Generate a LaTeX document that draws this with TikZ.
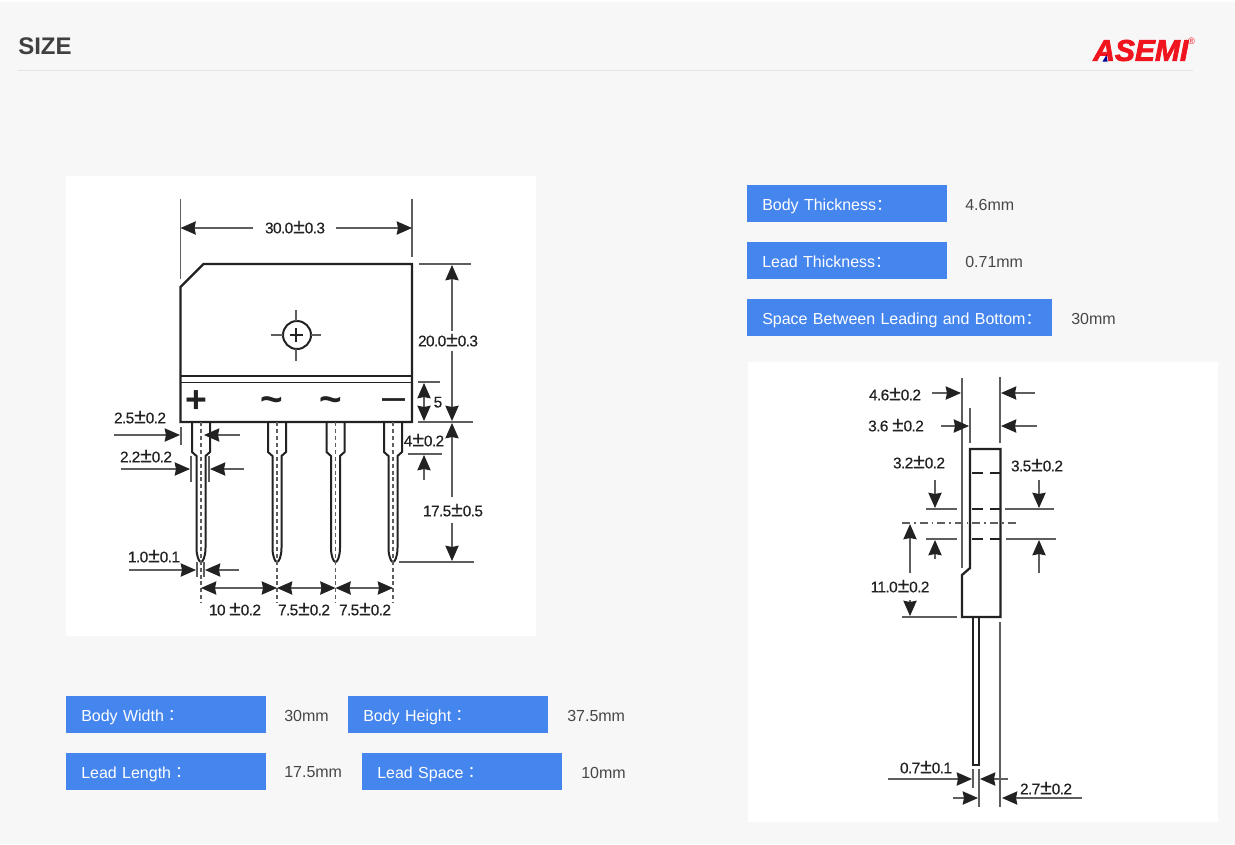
\documentclass[tikz,border=0pt]{standalone}
\usepackage{fontspec}
\setmainfont{Liberation Sans}
\newfontfamily\cjkfont{Noto Sans CJK SC}
\newfontfamily\cjktcfont{Noto Sans CJK TC}
\newfontfamily\logofont[FakeBold=2.5]{Liberation Sans Bold Italic}
\newfontfamily\dimfont[LetterSpace=-4,FakeBold=0.3]{Liberation Sans}
\usetikzlibrary{arrows.meta, positioning}
\definecolor{pagegray}{HTML}{F7F7F7}
\definecolor{specblue}{HTML}{4585EE}
\definecolor{inkdark}{HTML}{222222}
\definecolor{dimgray}{HTML}{5E5E5E}
\definecolor{logored}{HTML}{F0141E}
\newcommand{\cc}{{\cjkfont ：}}
\newcommand{\ct}{{\cjktcfont ：}}
\newcommand{\tol}{\scalebox{1.35}{±}}
\tikzset{
  specbox/.style={fill=specblue, text=white, anchor=west, inner ysep=0pt, inner xsep=11.25pt,
    minimum height=27.75pt, text height=11.25pt, text depth=0.75pt, font=\fontsize{12}{14}\selectfont, align=left},
  specval/.style={anchor=west, inner sep=0pt, text=black!72, font=\fontsize{12}{14}\selectfont},
  dimtext/.style={inner sep=0pt, yshift=0.6pt, text=inkdark, font=\fontsize{11.6}{13}\dimfont},
  signtext/.style={inner sep=0pt, text=inkdark},
  extline/.style={dimgray, line width=1pt},
  dimarrow/.style={dimgray, line width=1pt, -{Stealth[length=11.5pt, width=10pt, inset=1pt, color=inkdark]}},
  twoarrow/.style={dimgray, line width=1pt, {Stealth[length=11.5pt, width=10pt, inset=1pt, color=inkdark]}-{Stealth[length=11.5pt, width=10pt, inset=1pt, color=inkdark]}},
  outline/.style={inkdark, line width=1.7pt, line join=miter},
  centerline/.style={dimgray, line width=0.8pt, dash pattern=on 3pt off 2.2pt},
}
\begin{document}
\begin{tikzpicture}[x=0.75pt, y=-0.75pt]
\useasboundingbox (0,0) rectangle (1235,844);
\fill[pagegray] (0,0) rectangle (1235,844);
\fill[white] (0,0) rectangle (1235,1.5);
\fill[white] (66,176) rectangle (536,636);
\fill[white] (748,362) rectangle (1218,822);

% header
\node (title) [anchor=west, inner sep=0pt, text=black!75, font=\fontsize{18}{20}\selectfont\bfseries] at (18,46) {SIZE};
\draw[black!10, line width=0.75pt] (18,70.5) -- (1193,70.5);
\node (logo) [anchor=west, inner sep=0pt, text=logored, font=\fontsize{22.5}{24}\logofont] at (1093,50.5) {ASEMI};
\fill[blue!60!black] (1102.5,61.5) -- (1106.5,55) -- (1107.5,61.5) -- cycle;
\node (regmark) [inner sep=0pt, text=logored, font=\fontsize{7}{8}\selectfont] at (1191.5,41) {®};

% spec table
\node (bodythick) [specbox, text width=127.5pt] at (747,203.5) {\mbox{Body Thickness\cc}};
\node (bodythickv) [specval] at (965,204.5) {4.6mm};
\node (leadthick) [specbox, text width=127.5pt] at (747,260.5) {\mbox{Lead Thickness\cc}};
\node (leadthickv) [specval] at (965,261.5) {0.71mm};
\node (spacebot) [specbox, text width=206.25pt] at (747,317.5) {\mbox{Space Between Leading and Bottom\cc}};
\node (spacebotv) [specval] at (1071,318.5) {30mm};
\node (bodywidth) [specbox, text width=127.5pt] at (66,714.5) {\mbox{Body Width\ct}};
\node (bodywidthv) [specval] at (284,715.5) {30mm};
\node (bodyheight) [specbox, text width=127.5pt] at (348,714.5) {\mbox{Body Height\ct}};
\node (bodyheightv) [specval] at (567,715.5) {37.5mm};
\node (leadlen) [specbox, text width=127.5pt] at (66,771.5) {\mbox{Lead Length\ct}};
\node (leadlenv) [specval] at (284,772.5) {17.5mm};
\node (leadspace) [specbox, text width=127.5pt] at (362,771.5) {\mbox{Lead Space\ct}};
\node (leadspacev) [specval] at (581,772.5) {10mm};

% front view
\draw[outline] (180.5,287) -- (203.5,264) -- (412,264) -- (412,422) -- (180.5,422) -- cycle;
\draw[outline, line width=1.4pt] (180.5,376) -- (412,376) (180.5,382.5) -- (412,382.5);
\draw[inkdark, line width=1.5pt] (297,335) circle (14);
\draw[extline] (271,335) -- (283,335) (311,335) -- (321,335) (296,310) -- (296,321) (296,349) -- (296,361);
\draw[inkdark, line width=0.9pt] (290,335) -- (303,335) (296,328) -- (296,342);
\node (plus) [signtext, font=\fontsize{28}{30}\selectfont\bfseries] at (196.5,401.5) {+};
\node (tildea) [signtext, font=\fontsize{29}{32}\selectfont\bfseries] at (271.5,405) {\char`\~};
\node (tildeb) [signtext, font=\fontsize{29}{32}\selectfont\bfseries] at (330.5,405) {\char`\~};
\node (minus) [signtext, font=\fontsize{31}{32}\selectfont] at (393.5,405) {–};
\foreach \cx in {201,277,335.5,393} {
  \draw[outline, line width=1.5pt] ({\cx-9},422) -- ({\cx-9},452) -- ({\cx-4.5},456) -- ({\cx-4.5},548)
    .. controls ({\cx-4.5},556) and ({\cx-2},562) .. (\cx,562) .. controls ({\cx+2},562) and ({\cx+4.5},556) .. ({\cx+4.5},548)
    -- ({\cx+4.5},456) -- ({\cx+9},452) -- ({\cx+9},422);
  \draw[centerline] (\cx,422) -- (\cx,603);
}

% front view dimensions
\draw[extline] (180.5,199) -- (180.5,279) (412,199) -- (412,257);
\node (w30) [dimtext] at (295,228) {30.0\tol0.3};
\draw[dimarrow] (253,228) -- (180.5,228);
\draw[dimarrow] (336,228) -- (412,228);
\draw[extline] (419,264) -- (471,264) (418,382) -- (440,382) (418,422) -- (473,422) (399,562) -- (474,562);
\node (h20) [dimtext] at (448,341) {20.0\tol0.3};
\draw[dimarrow] (452,331) -- (452,265);
\draw[dimarrow] (452,351) -- (452,421);
\node (h5) [dimtext] at (438,403) {5};
\draw[twoarrow] (424,383) -- (424,421);
\node (h4) [dimtext] at (424,441) {4\tol0.2};
\draw[extline] (408,454) -- (442,454);
\draw[dimarrow] (424,480) -- (424,455);
\node (h175) [dimtext] at (453,511) {17.5\tol0.5};
\draw[dimarrow] (452,497) -- (452,423);
\draw[dimarrow] (452,523) -- (452,561);
\node (w25) [dimtext] at (140,418) {2.5\tol0.2};
\draw[extline] (181,427) -- (181,445);
\draw[dimarrow] (114,435) -- (180,435);
\draw[dimarrow] (240,435) -- (204,435);
\node (w22) [dimtext] at (146,457) {2.2\tol0.2};
\draw[extline] (191,456) -- (191,482) (209,456) -- (209,482);
\draw[dimarrow] (121,469) -- (190,469);
\draw[dimarrow] (244,469) -- (210,469);
\node (w10) [dimtext] at (154,557) {1.0\tol0.1};
\draw[extline] (197,562) -- (197,577) (204,562) -- (204,577);
\draw[dimarrow] (129,570) -- (196,570);
\draw[dimarrow] (239,570) -- (205,570);
\draw[twoarrow] (201,588) -- (277,588);
\draw[twoarrow] (277,588) -- (335.5,588);
\draw[twoarrow] (335.5,588) -- (393,588);
\node (p10) [dimtext] at (235,610) {10 \tol0.2};
\node (p75a) [dimtext] at (304,610) {7.5\tol0.2};
\node (p75b) [dimtext] at (365,610) {7.5\tol0.2};

% side view
\draw[outline] (970,568) -- (970,449) -- (1000.5,449) -- (1000.5,617) -- (962,617) -- (962,575) -- cycle;
\foreach \dy in {473,509,539}
  \draw[inkdark, line width=1.4pt] (972,\dy) -- (983,\dy) (990,\dy) -- (1000,\dy);
\draw[outline, line width=1.5pt] (972.5,617) -- (972.5,765) -- (979,765) -- (979,617);
\draw[dimgray, line width=0.8pt, dash pattern=on 6pt off 3pt on 1.2pt off 3pt] (902,523) -- (1016,523);

% side view dimensions
\draw[extline] (962,378) -- (962,568) (1000,377) -- (1000,443) (970,408) -- (970,443) (1000,622) -- (1000,807);
\node (t46) [dimtext] at (895,395) {4.6\tol0.2};
\draw[dimarrow] (932,393) -- (961,393);
\draw[dimarrow] (1035,393) -- (1001,393);
\node (t36) [dimtext] at (896,426) {3.6 \tol0.2};
\draw[dimarrow] (941,426) -- (969,426);
\draw[dimarrow] (1037,426) -- (1001,426);
\draw[extline] (926,509) -- (957,509) (926,539) -- (957,539) (1005,509) -- (1054,509) (1006,539) -- (1056,539) (902,617) -- (957,617);
\node (g32) [dimtext] at (919,463) {3.2\tol0.2};
\draw[dimarrow] (935,480) -- (935,508);
\draw[dimarrow] (935,559) -- (935,540);
\node (g35) [dimtext] at (1037,466) {3.5\tol0.2};
\draw[dimarrow] (1039,480) -- (1039,508);
\draw[dimarrow] (1039,573) -- (1039,540);
\node (h11) [dimtext] at (900,587) {11.0\tol 0.2};
\draw[dimarrow] (910,573) -- (910,524);
\draw[dimarrow] (910,600) -- (910,616);
\draw[extline] (973,769) -- (973,788) (979,769) -- (979,807);
\node (l07) [dimtext] at (926,768) {0.7\tol0.1};
\draw[dimarrow] (888,779) -- (972,779);
\draw[dimarrow] (1008,779) -- (980,779);
\node (l27) [dimtext] at (1046,789) {2.7\tol0.2};
\draw[dimarrow] (953,798) -- (978,798);
\draw[dimarrow] (1082,798) -- (1002,798);
\end{tikzpicture}
\end{document}
